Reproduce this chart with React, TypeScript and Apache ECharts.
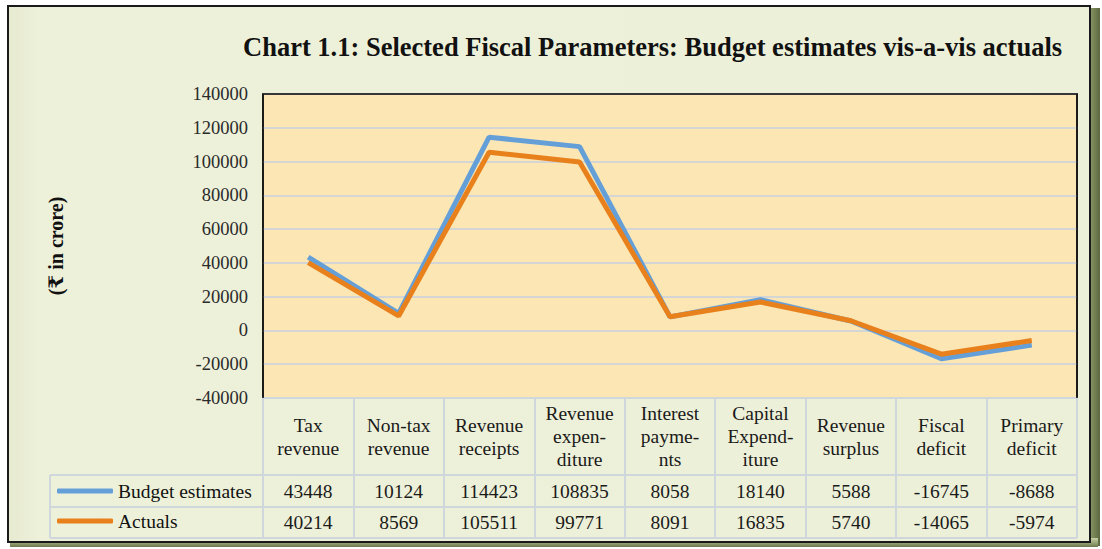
import React, { useEffect, useRef } from 'react';
import * as echarts from 'echarts';

const categories = [
  'Tax\nrevenue',
  'Non-tax\nrevenue',
  'Revenue\nreceipts',
  'Revenue\nexpen-\nditure',
  'Interest\npayme-\nnts',
  'Capital\nExpend-\niture',
  'Revenue\nsurplus',
  'Fiscal\ndeficit',
  'Primary\ndeficit',
];
const budgetEstimates = [43448, 10124, 114423, 108835, 8058, 18140, 5588, -16745, -8688];
const actuals = [40214, 8569, 105511, 99771, 8091, 16835, 5740, -14065, -5974];
const seriesNames = ['Budget estimates', 'Actuals'];
const yMin = -40000;
const yMax = 140000;
const yInterval = 20000;

const FONT = '"Liberation Serif", "Times New Roman", "DejaVu Serif", serif';
const BLUE = '#649fd8';
const ORANGE = '#e8801c';
const TABLE_LINE = '#cfd6dc';

export default function App() {
  const ref = useRef<HTMLDivElement>(null);
  useEffect(() => {
    if (!ref.current) return;
    const chart = echarts.init(ref.current, null, { renderer: 'svg' });
    const gl = 263, gr = 1077, gt = 94, gb = 398;
    const rowLines = [475, 507, 538];
    const colLeft = 50;
    const option: any = {
      animation: false,
      backgroundColor: '#ffffff',
      title: {
        text: 'Chart 1.1: Selected Fiscal Parameters: Budget estimates vis-a-vis actuals',
        left: 243,
        top: 33,
        padding: 0,
        textStyle: { fontFamily: FONT, fontSize: 26.5, fontWeight: 'bold', color: '#111' },
      },
      legend: {
        orient: 'vertical',
        left: 57,
        top: 480,
        padding: 0,
        itemGap: 8,
        itemWidth: 56,
        itemHeight: 5,
        icon: 'roundRect',
        textStyle: { fontFamily: FONT, fontSize: 19.5, color: '#111', lineHeight: 22 },
        data: seriesNames,
      },
      grid: {
        left: gl,
        right: 1102 - gr,
        top: gt,
        bottom: 549 - gb,
        show: true,
        backgroundColor: '#fbe6b4',
        borderColor: '#111',
        borderWidth: 1.5,
        containLabel: false,
      },
      xAxis: [
        {
          type: 'category',
          position: 'bottom',
          data: categories,
          boundaryGap: true,
          axisLine: { show: true, onZero: false, lineStyle: { color: TABLE_LINE, width: 2 } },
          axisTick: { show: true, interval: 0, inside: false, length: 140, lineStyle: { color: TABLE_LINE, width: 2 } },
          axisLabel: {
            interval: 0,
            margin: 38.5,
            verticalAlign: 'middle',
            fontFamily: FONT,
            fontSize: 19.5,
            lineHeight: 23,
            color: '#1a1a1a',
          },
          splitLine: { show: false },
        },
        {
          type: 'category',
          position: 'bottom',
          data: categories,
          boundaryGap: true,
          axisLine: { show: false, onZero: false },
          axisTick: { show: false },
          axisLabel: {
            interval: 0,
            margin: 93,
            verticalAlign: 'middle',
            fontFamily: FONT,
            fontSize: 19.5,
            color: '#1a1a1a',
            formatter: (_v: string, i: number) => String(budgetEstimates[i]),
          },
          splitLine: { show: false },
        },
        {
          type: 'category',
          position: 'bottom',
          data: categories,
          boundaryGap: true,
          axisLine: { show: false, onZero: false },
          axisTick: { show: false },
          axisLabel: {
            interval: 0,
            margin: 124,
            verticalAlign: 'middle',
            fontFamily: FONT,
            fontSize: 19.5,
            color: '#1a1a1a',
            formatter: (_v: string, i: number) => String(actuals[i]),
          },
          splitLine: { show: false },
        },
      ],
      yAxis: {
        type: 'value',
        min: yMin,
        max: yMax,
        interval: yInterval,
        name: '(₹ in crore)',
        nameLocation: 'middle',
        nameGap: 197,
        nameRotate: 90,
        nameTextStyle: { fontFamily: FONT, fontSize: 20, fontWeight: 'bold', color: '#111' },
        axisLine: { show: false },
        axisTick: { show: false },
        axisLabel: {
          margin: 15,
          fontFamily: FONT,
          fontSize: 18.5,
          color: '#2a2a2a',
          formatter: (v: number) => String(v),
        },
        splitLine: { show: true, lineStyle: { color: '#c6d1df', width: 1.5 } },
      },
      series: [
        {
          name: seriesNames[0],
          type: 'line',
          data: budgetEstimates,
          xAxisIndex: 0,
          showSymbol: false,
          symbol: 'none',
          color: BLUE,
          lineStyle: { color: BLUE, width: 5 },
          itemStyle: { color: BLUE },
        },
        {
          name: seriesNames[1],
          type: 'line',
          data: actuals,
          xAxisIndex: 0,
          showSymbol: false,
          symbol: 'none',
          color: ORANGE,
          lineStyle: { color: ORANGE, width: 5 },
          itemStyle: { color: ORANGE },
        },
      ],
      graphic: [
        {
          type: 'rect',
          z: -10,
          silent: true,
          shape: { x: 1084, y: 8, width: 16, height: 538 },
          style: {
            fill: new echarts.graphic.LinearGradient(0, 0, 1, 0, [
              { offset: 0, color: '#c9d0a6' },
              { offset: 0.5, color: '#7f8d5c' },
              { offset: 1, color: '#5b6840' },
            ]),
          },
        },
        {
          type: 'rect',
          z: -10,
          silent: true,
          shape: { x: 10, y: 538, width: 1088, height: 9 },
          style: {
            fill: new echarts.graphic.LinearGradient(0, 0, 0, 1, [
              { offset: 0, color: '#c9d0a6' },
              { offset: 1, color: '#6d7a4e' },
            ]),
          },
        },
        {
          type: 'rect',
          z: -9,
          silent: true,
          shape: { x: 8, y: 6, width: 1082, height: 536 },
          style: {
            fill: new echarts.graphic.LinearGradient(0, 0, 1, 0, [
              { offset: 0, color: '#e6ead0' },
              { offset: 0.03, color: '#eef1da' },
              { offset: 1, color: '#edf0d8' },
            ]),
            stroke: '#1a1a1a',
            lineWidth: 2,
          },
        },
        ...rowLines.map((y) => ({
          type: 'line',
          silent: true,
          z: 5,
          shape: { x1: colLeft, y1: y, x2: gr, y2: y },
          style: { stroke: TABLE_LINE, lineWidth: 2 },
        })),
        {
          type: 'line',
          silent: true,
          z: 5,
          shape: { x1: colLeft, y1: rowLines[0], x2: colLeft, y2: rowLines[2] },
          style: { stroke: TABLE_LINE, lineWidth: 2 },
        },
        {
          type: 'polyline',
          silent: true,
          z: 6,
          shape: { points: [[gl, gb], [gl, gt], [gr, gt], [gr, gb]] },
          style: { stroke: '#111', lineWidth: 1.6, fill: null },
        },
      ],
    };
    chart.setOption(option);
    return () => chart.dispose();
  }, []);
  return <div ref={ref} style={{ position: 'fixed', left: 0, top: 0, width: 1102, height: 549 }} />;
}
